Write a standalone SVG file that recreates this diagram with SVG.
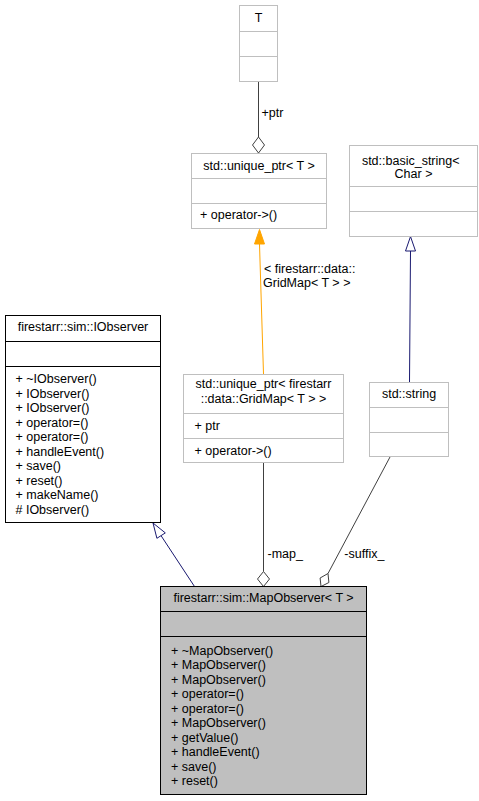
<svg xmlns="http://www.w3.org/2000/svg" width="479" height="801" viewBox="0 0 479 801">
<style>
text{font-family:"Liberation Sans",Arial,sans-serif;font-size:12.5px;fill:#000}
.c{text-anchor:middle}
.g{fill:#fff;stroke:#bfbfbf;stroke-width:1}
.k{fill:#fff;stroke:#000;stroke-width:1}
.f{fill:#bfbfbf;stroke:#000;stroke-width:1}
.sg{stroke:#bfbfbf;stroke-width:1}
.sk{stroke:#000;stroke-width:1}
.comp{fill:none;stroke:#404040;stroke-width:1}
.dia{fill:#fff;stroke:#404040;stroke-width:1}
.inh{fill:none;stroke:#191970;stroke-width:1}
.tri{fill:#fff;stroke:#191970;stroke-width:1}
.tmpl{fill:none;stroke:#ffa500;stroke-width:1}
.otri{fill:#ffa500;stroke:#ffa500;stroke-width:1}
</style>
<rect width="479" height="801" fill="#fff"/>
<g id="connectors">
<line class="comp" x1="258.5" y1="82" x2="258.5" y2="137"/>
<polygon class="dia" points="258.5,137 264.5,145 258.5,153 252.5,145"/>
<text x="261.5" y="116.7">+ptr</text>
<line class="tmpl" x1="263.5" y1="374" x2="259.5" y2="244"/>
<polygon class="otri" points="259.5,229.5 254.5,244 264.5,244"/>
<text x="264" y="272.7">&lt; firestarr::data::</text>
<text x="263" y="286.7">GridMap&lt; T &gt; &gt;</text>
<line class="inh" x1="409.5" y1="382" x2="410.5" y2="251"/>
<polygon class="tri" points="410.5,236.5 405.5,251 415.5,251"/>
<line class="inh" x1="194.5" y1="586.5" x2="161" y2="535.6"/>
<polygon class="tri" points="153,523 165.3,532.9 156.9,538.3"/>
<line class="comp" x1="263.5" y1="463" x2="263.5" y2="571.5"/>
<polygon class="dia" points="263.5,571.5 269.5,579 263.5,586.5 257.5,579"/>
<text x="267.5" y="558.3">-map_</text>
<line class="comp" x1="390" y1="457" x2="328" y2="573.5"/>
<polygon class="dia" points="328,573.5 328.9,582.5 321,586.5 320.1,578"/>
<text x="344.3" y="558.3">-suffix_</text>
</g>
<g id="node_T">
<rect class="g" x="239.5" y="5.5" width="38" height="76"/>
<line class="sg" x1="239.5" y1="31.5" x2="277.5" y2="31.5"/>
<line class="sg" x1="239.5" y1="56.5" x2="277.5" y2="56.5"/>
<text class="c" x="258.5" y="21.7">T</text>
</g>
<g id="node_unique_ptr_T">
<rect class="g" x="191.5" y="153.5" width="135" height="75"/>
<line class="sg" x1="191.5" y1="178.5" x2="326.5" y2="178.5"/>
<line class="sg" x1="191.5" y1="203.5" x2="326.5" y2="203.5"/>
<text class="c" x="259" y="170">std::unique_ptr&lt; T &gt;</text>
<text x="200" y="219.3">+ operator-&gt;()</text>
</g>
<g id="node_basic_string">
<rect class="g" x="349.5" y="145.5" width="128" height="91"/>
<line class="sg" x1="349.5" y1="186.5" x2="477.5" y2="186.5"/>
<line class="sg" x1="349.5" y1="211.5" x2="477.5" y2="211.5"/>
<text class="c" x="410.7" y="165">std::basic_string&lt;</text>
<text class="c" x="413.5" y="177.7">Char &gt;</text>
</g>
<g id="node_IObserver">
<rect class="k" x="5.5" y="315.5" width="155" height="207"/>
<line class="sk" x1="5.5" y1="341.5" x2="160.5" y2="341.5"/>
<line class="sk" x1="5.5" y1="366.5" x2="160.5" y2="366.5"/>
<text class="c" x="83" y="331.3">firestarr::sim::IObserver</text>
<text x="15.5" y="383.3">+ ~IObserver()</text>
<text x="15.5" y="397.8">+ IObserver()</text>
<text x="15.5" y="412.3">+ IObserver()</text>
<text x="15.5" y="426.8">+ operator=()</text>
<text x="15.5" y="441.3">+ operator=()</text>
<text x="15.5" y="455.8">+ handleEvent()</text>
<text x="15.5" y="470.3">+ save()</text>
<text x="15.5" y="484.8">+ reset()</text>
<text x="15.5" y="499.3">+ makeName()</text>
<text x="15.5" y="513.8"># IObserver()</text>
</g>
<g id="node_unique_ptr_GridMap">
<rect class="g" x="183.5" y="374.5" width="160" height="88"/>
<line class="sg" x1="183.5" y1="413.5" x2="343.5" y2="413.5"/>
<line class="sg" x1="183.5" y1="438.5" x2="343.5" y2="438.5"/>
<text class="c" x="263.5" y="388.3">std::unique_ptr&lt; firestarr</text>
<text class="c" x="263.5" y="403.3">::data::GridMap&lt; T &gt; &gt;</text>
<text x="194.5" y="430">+ ptr</text>
<text x="194.5" y="455">+ operator-&gt;()</text>
</g>
<g id="node_string">
<rect class="g" x="369.5" y="382.5" width="79" height="74"/>
<line class="sg" x1="369.5" y1="407.5" x2="448.5" y2="407.5"/>
<line class="sg" x1="369.5" y1="432.5" x2="448.5" y2="432.5"/>
<text class="c" x="409" y="397.7">std::string</text>
</g>
<g id="node_MapObserver">
<rect class="f" x="160.5" y="586.5" width="206" height="208"/>
<line class="sk" x1="160.5" y1="611.5" x2="366.5" y2="611.5"/>
<line class="sk" x1="160.5" y1="636.5" x2="366.5" y2="636.5"/>
<text class="c" x="263.5" y="602">firestarr::sim::MapObserver&lt; T &gt;</text>
<text x="171" y="654.5">+ ~MapObserver()</text>
<text x="171" y="669">+ MapObserver()</text>
<text x="171" y="683.5">+ MapObserver()</text>
<text x="171" y="698">+ operator=()</text>
<text x="171" y="712.5">+ operator=()</text>
<text x="171" y="727">+ MapObserver()</text>
<text x="171" y="741.5">+ getValue()</text>
<text x="171" y="756">+ handleEvent()</text>
<text x="171" y="770.5">+ save()</text>
<text x="171" y="785">+ reset()</text>
</g>
</svg>
